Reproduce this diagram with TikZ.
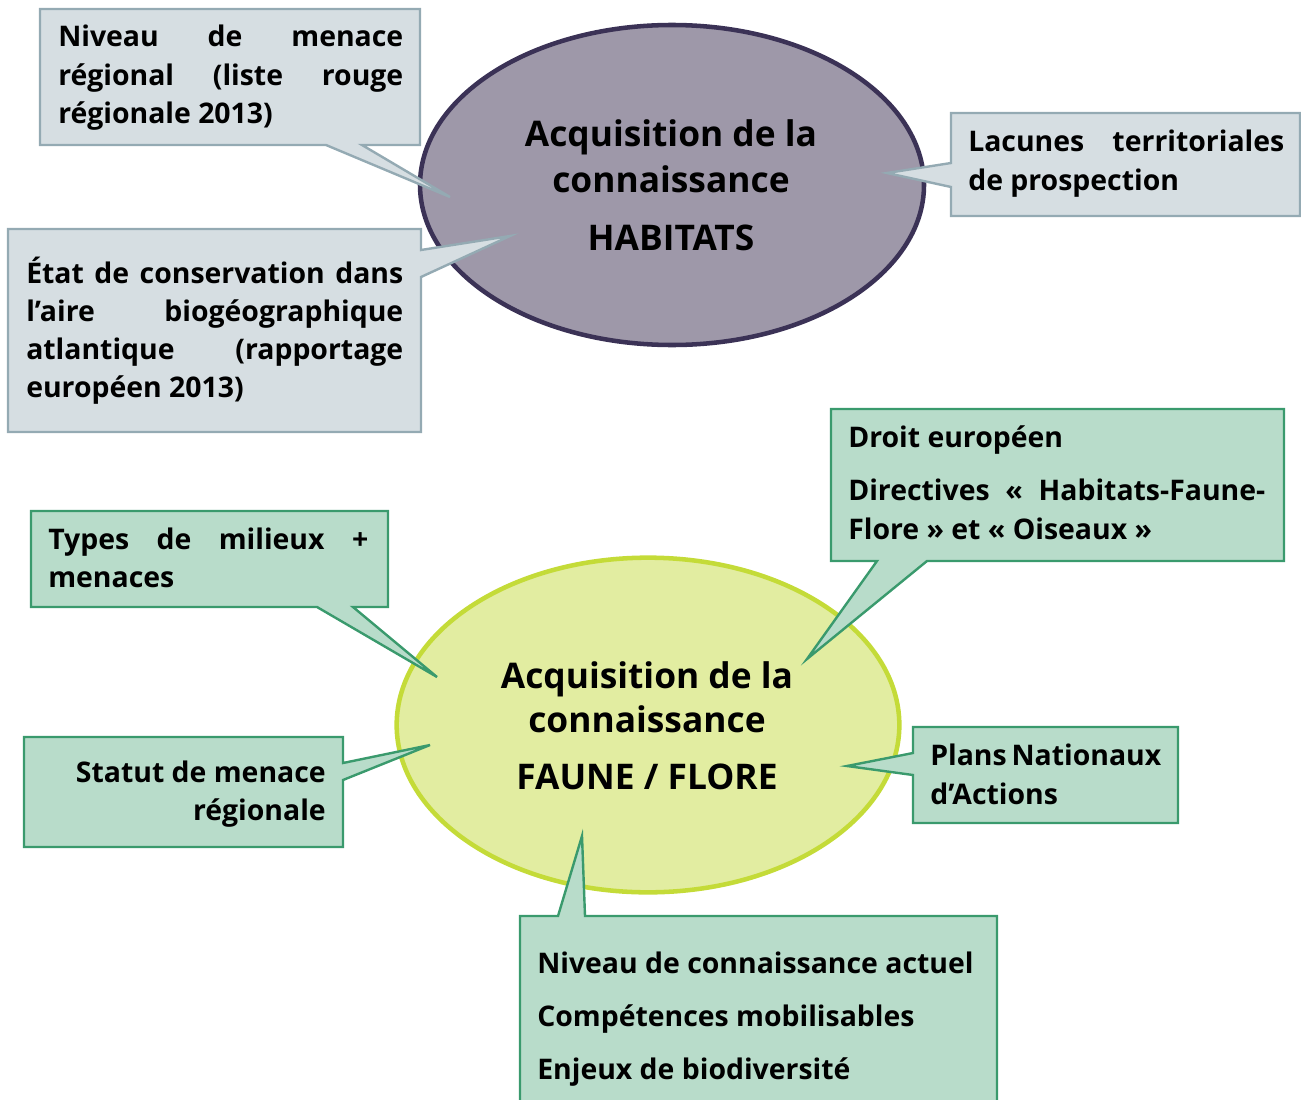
\documentclass[tikz,border=0pt]{standalone}
\usepackage{fontspec}
\usetikzlibrary{shapes.geometric}
\newfontfamily\headfont{Open Sans}
\newfontfamily\bodyfont{Open Sans}
\definecolor{gfill}{HTML}{D6DEE2}
\definecolor{gline}{HTML}{94AAB3}
\definecolor{hfill}{HTML}{9E98A9}
\definecolor{hline}{HTML}{3B3256}
\definecolor{vfill}{HTML}{B8DCCA}
\definecolor{vline}{HTML}{3A9A6D}
\definecolor{ffill}{HTML}{E2EDA1}
\definecolor{fline}{HTML}{C4DB38}
\newdimen\pxu \pxu=0.75pt
\newcommand\jl[2]{\makebox[#1\pxu][s]{#2}}
\tikzset{
  graybox/.style={fill=gfill, draw=gline, line width=1.8pt, line join=miter},
  greenbox/.style={fill=vfill, draw=vline, line width=1.8pt, line join=miter},
  txt/.style={inner sep=0pt, anchor=base west, font=\bodyfont\bfseries\fontsize{21.3}{29}\selectfont},
  txtr/.style={txt, anchor=base east},
  head/.style={inner sep=0pt, anchor=base, font=\headfont\bfseries\fontsize{26.5}{34}\selectfont},
}
\begin{document}
\begin{tikzpicture}[x=0.75pt,y=-0.75pt]
\useasboundingbox (0,0) rectangle (1301,1099);
\clip (0,0) rectangle (1301,1099);
% ellipses
\node[ellipse, fill=hfill, draw=hline, line width=3.4pt, minimum width=378pt, minimum height=240pt, inner sep=0pt] (hab) at (672,185) {};
\node[ellipse, fill=ffill, draw=fline, line width=3.4pt, minimum width=377pt, minimum height=251pt, inner sep=0pt] (ff) at (648,725) {};
% heading texts
\node[head] (h1a) at (671,146) {Acquisition de la};
\node[head] (h1b) at (671,192) {connaissance};
\node[head] (h1c) at (671,250) {HABITATS};
\node[head] (f1a) at (647,688) {Acquisition de la};
\node[head] (f1b) at (647,732) {connaissance};
\node[head] (f1c) at (647,789) {FAUNE / FLORE};
% callout shapes
\draw[graybox] (40,9) -- (420,9) -- (420,145) -- (362,145) -- (450,197) -- (326,145) -- (40,145) -- cycle;
\draw[graybox] (8,229) -- (421,229) -- (421,250) -- (510,236) -- (421,277) -- (421,432) -- (8,432) -- cycle;
\draw[graybox] (951,113) -- (1300,113) -- (1300,216) -- (951,216) -- (951,187) -- (887,173) -- (951,163) -- cycle;
\draw[greenbox] (831,409) -- (1284,409) -- (1284,561) -- (927,561) -- (807,659) -- (877,561) -- (831,561) -- cycle;
\draw[greenbox] (31,511) -- (388,511) -- (388,607) -- (353,607) -- (437,677) -- (317,607) -- (31,607) -- cycle;
\draw[greenbox] (24,737) -- (343,737) -- (343,763) -- (430,745) -- (343,780) -- (343,847) -- (24,847) -- cycle;
\draw[greenbox] (913,727) -- (1178,727) -- (1178,823) -- (913,823) -- (913,775) -- (847,766) -- (913,753) -- cycle;
\draw[greenbox] (520,916) -- (558,916) -- (582,836) -- (585,916) -- (997,916) -- (997,1110) -- (520,1110) -- cycle;
% texts
\node[txt] (a1) at (58,47) {\jl{345}{Niveau de menace}};
\node[txt] (a2) at (58,85) {\jl{345}{régional (liste rouge}};
\node[txt] (a3) at (58,123) {régionale 2013)};
\node[txt] (b1) at (26,283) {\jl{377}{État de conservation dans}};
\node[txt] (b2) at (26,321) {\jl{377}{l’aire biogéographique}};
\node[txt] (b3) at (26,359) {\jl{377}{atlantique (rapportage}};
\node[txt] (b4) at (26,397) {européen 2013)};
\node[txt] (c1) at (968,151) {\jl{316}{Lacunes territoriales}};
\node[txt] (c2) at (968,190) {de prospection};
\node[txt] (d1) at (848,447) {Droit européen};
\node[txt] (d2) at (848,500) {\jl{417}{Directives « Habitats-Faune-}};
\node[txt] (d3) at (848,539) {Flore » et « Oiseaux »};
\node[txt] (e1) at (48,549) {\jl{320}{Types de milieux +}};
\node[txt] (e2) at (48,587) {menaces};
\node[txtr] (f1) at (326,782) {Statut de menace};
\node[txtr] (f2) at (326,820) {régionale};
\node[txt] (g1) at (930,765) {\jl{230}{Plans Nationaux}};
\node[txt] (g2) at (930,804) {d’Actions};
\node[txt] (k1) at (537,973) {Niveau de connaissance actuel};
\node[txt] (k2) at (537,1026) {Compétences mobilisables};
\node[txt] (k3) at (537,1079) {Enjeux de biodiversité};
\end{tikzpicture}
\end{document}
